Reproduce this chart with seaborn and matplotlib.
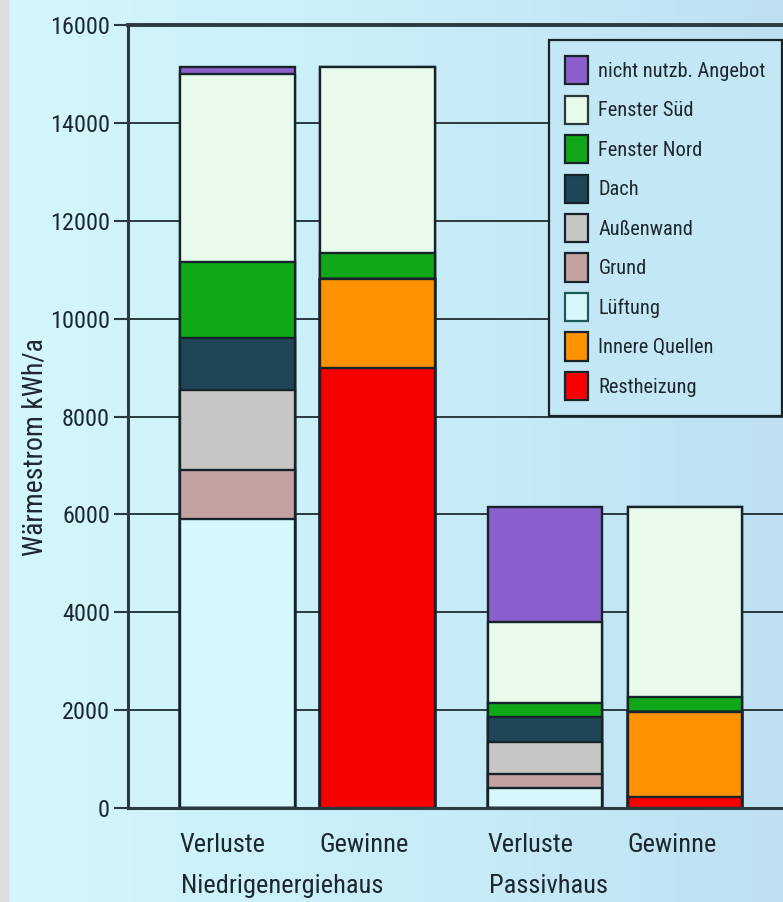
import numpy as np
import pandas as pd
import matplotlib
matplotlib.use("Agg")
import matplotlib.pyplot as plt
from matplotlib import font_manager
from matplotlib.patches import Patch
from matplotlib.colors import LinearSegmentedColormap
from matplotlib.transforms import blended_transform_factory
import seaborn as sns

# ---- data -------------------------------------------------------------
bar_labels = ["Verluste", "Gewinne", "Verluste", "Gewinne"]
group_labels = ["Niedrigenergiehaus", "Passivhaus"]

# stacking order, bottom -> top
components = ["Restheizung", "Innere Quellen", "Lüftung", "Grund", "Außenwand",
              "Dach", "Fenster Nord", "Fenster Süd", "nicht nutzb. Angebot"]

restheizung    = [0, 9000, 0, 230]
innere_quellen = [0, 1800, 0, 1730]
lueftung       = [5900, 0, 400, 0]
grund          = [1000, 0, 300, 0]
aussenwand     = [1650, 0, 650, 0]
dach           = [1050, 0, 500, 0]
fenster_nord   = [1550, 550, 300, 300]
fenster_sued   = [3850, 3800, 1650, 3890]
nicht_nutzbar  = [150, 0, 2350, 0]

y_ticks = [0, 2000, 4000, 6000, 8000, 10000, 12000, 14000, 16000]
y_label = "Wärmestrom kWh/a"

values = [restheizung, innere_quellen, lueftung, grund, aussenwand,
          dach, fenster_nord, fenster_sued, nicht_nutzbar]

# ---- styling ----------------------------------------------------------
colors = {
    "nicht nutzb. Angebot": "#8b60cc",
    "Fenster Süd": "#e8faea",
    "Fenster Nord": "#10a818",
    "Dach": "#1f4656",
    "Außenwand": "#c6c6c4",
    "Grund": "#c4a2a2",
    "Lüftung": "#d6f7fb",
    "Innere Quellen": "#ff9200",
    "Restheizung": "#f80000",
}
legend_edges = {
    "Lüftung": "#1f5a5a",
    "Fenster Süd": "#2a3a3a",
}
EDGE = "#16232a"
INK = "#1c282d"
GRID = "#2a3a40"

sns.set_theme(style="ticks")

# prefer a narrow sans face if one is available
installed = {f.name for f in font_manager.fontManager.ttflist}
preferred = ["Roboto Condensed", "Liberation Sans Narrow", "Open Sans Condensed",
             "Noto Sans Condensed", "DejaVu Sans Condensed", "Lato", "Liberation Sans"]
face = next((name for name in preferred if name in installed), "DejaVu Sans")
plt.rcParams["font.family"] = [face, "DejaVu Sans"]
narrow = face in ("Roboto Condensed", "Liberation Sans Narrow", "Open Sans Condensed",
                  "Noto Sans Condensed", "DejaVu Sans Condensed")
scale = 1.0 if narrow else 0.82

plt.rcParams["text.color"] = INK
plt.rcParams["axes.labelcolor"] = INK
plt.rcParams["xtick.color"] = INK
plt.rcParams["ytick.color"] = INK

fig = plt.figure(figsize=(7.83, 9.02), dpi=100)

# soft horizontal colour gradient behind the whole figure
bg_ax = fig.add_axes([0, 0, 1, 1], zorder=-10)
bg_cmap = LinearSegmentedColormap.from_list("bg", ["#d4f7fb", "#c9eef8", "#bee0f2"])
bg_ax.imshow(np.linspace(0, 1, 256)[None, :], cmap=bg_cmap, aspect="auto",
             extent=[0, 1, 0, 1])
bg_ax.axvspan(0, 8 / 783, color="#dcdcdc")
bg_ax.set_xlim(0, 1)
bg_ax.set_ylim(0, 1)
bg_ax.axis("off")

ax = fig.add_axes([128 / 783, 1 - 808 / 902, 1 - 128 / 783, (808 - 25) / 902])
ax.set_facecolor("none")

# long table with cumulative tops for the stacked bars
bar_pos = [0.0, 1.0, 2.2, 3.2]
bar_width = 0.82
stack = np.cumsum(np.array(values, dtype=float), axis=0)
rows = []
for comp, tops in zip(components, stack):
    for pos, top in zip(bar_pos, tops):
        rows.append({"pos": pos, "top": top, "component": comp})
df = pd.DataFrame(rows)

# tallest layer first, lower layers painted over it
sns.barplot(data=df, x="pos", y="top", hue="component",
            hue_order=components[::-1], palette=colors, saturation=1,
            native_scale=True, dodge=False, width=bar_width,
            errorbar=None, legend=False,
            edgecolor=EDGE, linewidth=1.7, ax=ax)

ax.set_xlim(-0.78, 3.9)
ax.set_ylim(0, 16000)
ax.set_yticks(y_ticks)
ax.set_yticklabels([str(t) for t in y_ticks], fontsize=17.5 * scale)
ax.yaxis.grid(True, color=GRID, linewidth=1.4)
ax.xaxis.grid(False)
ax.set_axisbelow(True)
ax.tick_params(axis="y", length=10, width=1.5, pad=3, color=GRID)

# bar captions, left-aligned with each bar's left edge
left_edges = [p - bar_width / 2 for p in bar_pos]
ax.set_xticks(left_edges)
ax.set_xticklabels(bar_labels, ha="left", fontsize=19 * scale)
ax.tick_params(axis="x", length=0, pad=18)
ax.set_xlabel("")

# house type captions on a second row under each pair
trans = blended_transform_factory(ax.transData, ax.transAxes)
for x0, text in zip(left_edges[::2], group_labels):
    ax.text(x0 + 0.01, -0.1086, text, transform=trans, ha="left", va="baseline",
            fontsize=19 * scale, color=INK)

ax.set_ylabel(y_label, fontsize=20 * scale)
ax.yaxis.set_label_coords(-0.122, 0.461)

for side in ("left", "bottom"):
    ax.spines[side].set_color(GRID)
    ax.spines[side].set_linewidth(2.2)
ax.spines["top"].set_visible(True)
ax.spines["top"].set_color(GRID)
ax.spines["top"].set_linewidth(2.8)
ax.spines["right"].set_visible(False)

handles = [Patch(facecolor=colors[c], edgecolor=legend_edges.get(c, EDGE), linewidth=1.6)
           for c in components[::-1]]
leg = ax.legend(handles, components[::-1], loc="upper right",
                bbox_to_anchor=(0.9985, 0.981), fontsize=14.7 * scale,
                frameon=True, fancybox=False, framealpha=1,
                facecolor="#c4e7f5", edgecolor=EDGE,
                handlelength=1.12, handleheight=1.75, handletextpad=0.5,
                labelspacing=0.55, borderpad=0.8, borderaxespad=0)
leg.get_frame().set_linewidth(1.6)

fig.savefig("out.png", dpi=100)
